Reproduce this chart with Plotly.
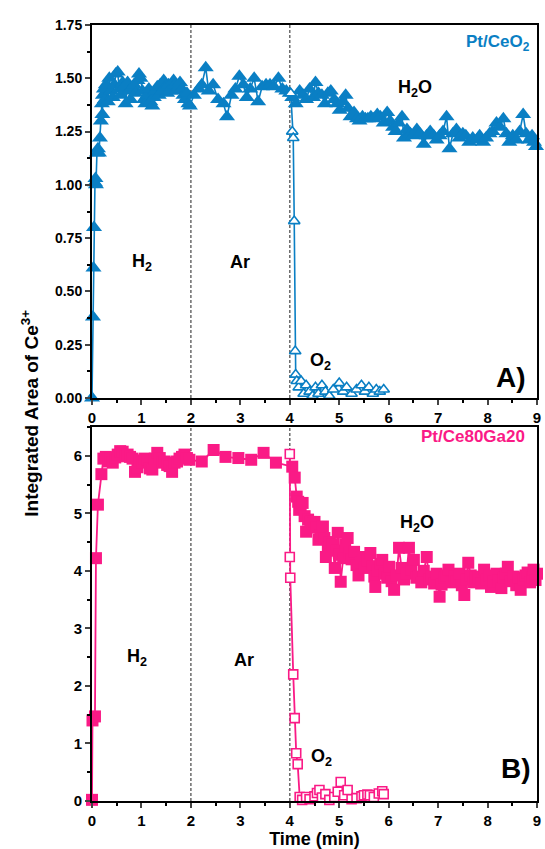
import plotly.graph_objects as go

# ---------------- data ----------------
# Pt/CeO2, H2 -> Ar -> H2O (filled triangles)
ceo2_t = [0.00, 0.02, 0.03, 0.04, 0.06, 0.07, 0.08, 0.10, 0.12, 0.14, 0.16, 0.18, 0.20, 0.21, 0.22, 0.24, 0.26,
          0.28, 0.32, 0.35, 0.38, 0.42, 0.45, 0.48, 0.52, 0.55, 0.58, 0.62, 0.65, 0.68, 0.72, 0.75, 0.78, 0.82,
          0.85, 0.88, 0.92, 0.95, 0.98, 1.02, 1.05, 1.08, 1.12, 1.15, 1.18, 1.22, 1.25, 1.28, 1.32, 1.35, 1.38,
          1.42, 1.45, 1.48, 1.52, 1.55, 1.58, 1.62, 1.65, 1.68, 1.72, 1.75, 1.78, 1.82, 1.85, 1.88, 1.92, 1.95,
          1.98, 2.06, 2.16, 2.22, 2.30, 2.36, 2.45, 2.55, 2.66, 2.73, 2.82, 2.90, 2.98, 3.06, 3.13, 3.20, 3.28,
          3.36, 3.44, 3.52, 3.60, 3.68, 3.77, 3.85, 3.93, 4.00,
          4.05, 4.12, 4.20, 4.27, 4.33, 4.40, 4.47, 4.52, 4.58, 4.65, 4.71, 4.77, 4.83, 4.90, 4.96, 5.01, 5.07,
          5.13, 5.18, 5.23, 5.30, 5.36, 5.41, 5.47, 5.53, 5.58, 5.64, 5.70, 5.77, 5.83, 5.90, 5.97, 6.03, 6.09,
          6.14, 6.20, 6.27, 6.31, 6.37, 6.44, 6.50, 6.57, 6.63, 6.71, 6.77, 6.84, 6.91, 6.97, 7.03, 7.10, 7.17,
          7.23, 7.30, 7.37, 7.43, 7.50, 7.56, 7.63, 7.70, 7.78, 7.84, 7.91, 7.97, 8.04, 8.10, 8.18, 8.25, 8.32,
          8.38, 8.44, 8.51, 8.58, 8.65, 8.72, 8.78, 8.84, 8.90, 8.94, 8.98]
ceo2_v = [0.00, 0.38, 0.61, 0.80, 1.01, 1.03, 1.00, 1.15, 1.17, 1.15, 1.22, 1.30, 1.38, 1.33, 1.42, 1.45, 1.40,
          1.47, 1.39, 1.50, 1.44, 1.41, 1.47, 1.52, 1.53, 1.45, 1.42, 1.48, 1.46, 1.38, 1.48, 1.44, 1.40, 1.46,
          1.47, 1.43, 1.49, 1.52, 1.50, 1.44, 1.40, 1.38, 1.42, 1.45, 1.39, 1.37, 1.41, 1.44, 1.46, 1.42, 1.47,
          1.44, 1.49, 1.46, 1.43, 1.47, 1.44, 1.46, 1.49, 1.47, 1.44, 1.46, 1.48, 1.45, 1.42, 1.40, 1.43, 1.38,
          1.37, 1.42, 1.45, 1.47, 1.55, 1.44, 1.47, 1.40, 1.38, 1.32, 1.42, 1.45, 1.51, 1.47, 1.41, 1.45, 1.50,
          1.39, 1.46, 1.47, 1.47, 1.46, 1.50, 1.45, 1.44, 1.43,
          1.41, 1.38, 1.44, 1.42, 1.40, 1.45, 1.41, 1.48, 1.43, 1.42, 1.38, 1.43, 1.44, 1.40, 1.38, 1.35, 1.39,
          1.42, 1.36, 1.32, 1.34, 1.31, 1.30, 1.32, 1.31, 1.31, 1.32, 1.31, 1.33, 1.32, 1.29, 1.34, 1.30, 1.27,
          1.25, 1.29, 1.32, 1.22, 1.26, 1.24, 1.23, 1.26, 1.24, 1.19, 1.23, 1.25, 1.23, 1.21, 1.23, 1.25, 1.32,
          1.17, 1.24, 1.26, 1.22, 1.24, 1.23, 1.20, 1.22, 1.21, 1.23, 1.20, 1.22, 1.24, 1.25, 1.29, 1.27, 1.31,
          1.24, 1.20, 1.23, 1.21, 1.25, 1.33, 1.24, 1.21, 1.23, 1.20, 1.18]

# Pt/CeO2, O2 step (open triangles)
ceo2_o2_t = [4.02, 4.05, 4.07, 4.09, 4.11, 4.12, 4.14, 4.18, 4.23, 4.28, 4.33, 4.40, 4.46, 4.52, 4.58, 4.65,
             4.72, 4.80, 4.88, 5.00, 5.08, 5.15, 5.25, 5.35, 5.45, 5.52, 5.60, 5.68, 5.75, 5.82, 5.90]
ceo2_o2_v = [1.43, 1.25, 1.22, 0.83, 0.22, 0.11, 0.08, 0.05, 0.08, 0.02, 0.06, 0.03, 0.01, 0.05, 0.02, 0.06,
             0.03, 0.01, 0.04, 0.07, 0.03, 0.05, 0.02, 0.04, 0.06, 0.03, 0.05, 0.02, 0.04, 0.03, 0.04]

# Pt/Ce80Ga20, H2 -> Ar -> H2O (filled squares)
ga_t = [0.00, 0.01, 0.06, 0.08, 0.12, 0.19, 0.23, 0.28, 0.33, 0.38, 0.42, 0.47, 0.52, 0.57, 0.62, 0.67, 0.72,
        0.77, 0.82, 0.87, 0.92, 0.97, 1.02, 1.07, 1.12, 1.17, 1.22, 1.27, 1.32, 1.37, 1.42, 1.47, 1.52, 1.57,
        1.62, 1.67, 1.72, 1.77, 1.82, 1.87, 1.92, 1.97, 2.22, 2.46, 2.70, 2.96, 3.22, 3.47, 3.72,
        4.05, 4.10, 4.14, 4.17, 4.19, 4.22, 4.26, 4.30, 4.33, 4.37, 4.42, 4.47, 4.50, 4.54, 4.58, 4.62, 4.67,
        4.70, 4.73, 4.77, 4.81, 4.86, 4.91, 4.95, 4.97, 5.01, 5.03, 5.08, 5.12, 5.17, 5.21, 5.25, 5.30, 5.35,
        5.39, 5.44, 5.47, 5.52, 5.57, 5.63, 5.67, 5.71, 5.73, 5.78, 5.83, 5.87, 5.92, 5.97, 6.01, 6.06, 6.11,
        6.16, 6.21, 6.26, 6.31, 6.36, 6.41, 6.46, 6.51, 6.56, 6.61, 6.66, 6.71, 6.77, 6.82, 6.87, 6.92, 6.97,
        7.03, 7.07, 7.12, 7.17, 7.21, 7.27, 7.33, 7.38, 7.43, 7.48, 7.53, 7.57, 7.61, 7.66, 7.71, 7.76, 7.81,
        7.87, 7.93, 7.98, 8.03, 8.07, 8.12, 8.18, 8.23, 8.28, 8.33, 8.37, 8.41, 8.47, 8.53, 8.58, 8.63, 8.67,
        8.72, 8.77, 8.81, 8.86, 8.90, 8.93, 8.97, 9.00]
ga_v = [0.02, 1.40, 1.47, 4.22, 5.15, 5.68, 5.95, 5.98, 5.90, 5.95, 5.88, 5.97, 6.02, 6.08, 6.07, 5.99, 6.02,
        5.98, 5.95, 5.72, 5.80, 5.92, 5.88, 5.95, 5.93, 5.78, 5.76, 5.95, 6.05, 5.96, 5.88, 5.90, 5.84, 5.82,
        5.72, 5.88, 5.90, 5.95, 5.98, 6.02, 5.96, 5.93, 5.90, 6.10, 5.98, 5.96, 5.93, 6.05, 5.88,
        5.81, 5.62, 5.29, 5.20, 5.06, 5.11, 5.18, 4.95, 4.68, 4.89, 4.85, 4.82, 4.85, 4.75, 4.54, 4.62, 4.77,
        4.57, 4.24, 4.40, 4.50, 4.45, 4.05, 4.35, 4.66, 4.28, 3.81, 4.22, 4.45, 4.57, 4.31, 4.20, 4.33, 4.10,
        3.92, 4.15, 4.24, 4.05, 4.18, 4.31, 4.08, 3.90, 3.72, 4.00, 4.12, 4.19, 3.95, 3.88, 4.07, 3.82, 3.67,
        3.92, 4.40, 4.05, 3.85, 3.95, 4.40, 4.02, 4.19, 3.88, 3.90, 3.80, 4.00, 4.24, 3.85, 3.90, 3.78, 3.95,
        3.55, 3.76, 3.88, 3.92, 4.02, 3.80, 3.90, 3.82, 3.95, 3.75, 3.58, 3.85, 4.14, 3.92, 3.80, 3.88, 3.90,
        3.78, 4.02, 3.85, 3.92, 3.72, 3.82, 3.95, 3.84, 3.70, 3.88, 3.95, 4.07, 3.82, 3.90, 3.75, 3.88, 3.67,
        3.85, 3.92, 3.97, 3.80, 3.88, 4.02, 3.84, 3.95]

# Pt/Ce80Ga20, O2 step (open squares)
ga_o2_t = [4.00, 4.00, 4.01, 4.07, 4.10, 4.13, 4.16, 4.20, 4.25, 4.33, 4.40, 4.50, 4.55, 4.60, 4.65, 4.72,
           4.80, 4.90, 4.97, 5.03, 5.10, 5.17, 5.25, 5.35, 5.45, 5.50, 5.57, 5.62, 5.70, 5.80, 5.87, 5.90]
ga_o2_v = [6.03, 4.24, 3.88, 2.20, 1.44, 0.83, 0.64, 0.07, 0.02, 0.07, 0.03, 0.08, 0.14, 0.19, 0.06, 0.12,
           0.02, 0.07, 0.16, 0.33, 0.10, 0.19, 0.03, 0.05, 0.08, 0.10, 0.11, 0.10, 0.07, 0.13, 0.17, 0.12]

x_ticks = [0, 1, 2, 3, 4, 5, 6, 7, 8, 9]
top_y_ticks = [0.00, 0.25, 0.50, 0.75, 1.00, 1.25, 1.50, 1.75]
bot_y_ticks = [0, 1, 2, 3, 4, 5, 6]
switch_times = [2, 4]

BLUE = "#0A7FC4"
PINK = "#FA1A86"
FONT = "Liberation Sans"

fig = go.Figure()

fig.add_trace(go.Scatter(x=ceo2_t, y=ceo2_v, mode="lines+markers", cliponaxis=False,
                         line=dict(color=BLUE, width=1.6),
                         marker=dict(symbol="triangle-up", size=14, color=BLUE),
                         xaxis="x", yaxis="y", showlegend=False))
fig.add_trace(go.Scatter(x=ceo2_o2_t, y=ceo2_o2_v, mode="lines+markers", cliponaxis=False,
                         line=dict(color=BLUE, width=1.6),
                         marker=dict(symbol="triangle-up", size=10, color="white",
                                     line=dict(color=BLUE, width=1.6)),
                         xaxis="x", yaxis="y", showlegend=False))
fig.add_trace(go.Scatter(x=ga_t, y=ga_v, mode="lines+markers", cliponaxis=False,
                         line=dict(color=PINK, width=1.8),
                         marker=dict(symbol="square", size=12, color=PINK),
                         xaxis="x2", yaxis="y2", showlegend=False))
fig.add_trace(go.Scatter(x=ga_o2_t, y=ga_o2_v, mode="lines+markers", cliponaxis=False,
                         line=dict(color=PINK, width=1.8),
                         marker=dict(symbol="square", size=9, color="white",
                                     line=dict(color=PINK, width=1.6)),
                         xaxis="x2", yaxis="y2", showlegend=False))

common_x = dict(range=[0, 9], tickvals=x_ticks, ticks="outside", ticklen=5, tickwidth=2,
                minor=dict(ticks="outside", dtick=0.5, ticklen=3, tickwidth=1.5, tickcolor="black"),
                showline=True, linewidth=2, linecolor="black", mirror=True, showgrid=False,
                zeroline=False, tickfont=dict(family=FONT, size=15, color="black", weight="bold"))
common_y = dict(ticks="outside", ticklen=5, tickwidth=2, showline=True, linewidth=2,
                linecolor="black", mirror=True, showgrid=False, zeroline=False)

fig.update_layout(
    width=545, height=849, margin=dict(l=92, r=4, t=25, b=48),
    plot_bgcolor="white", paper_bgcolor="white",
    xaxis=dict(**common_x, domain=[0, 1], anchor="y"),
    yaxis=dict(**common_y, domain=[0.5193, 1], anchor="x", range=[0, 1.75],
               tickvals=top_y_ticks, tickformat=".2f",
               tickfont=dict(family=FONT, size=14, color="black", weight="bold"),
               minor=dict(ticks="outside", dtick=0.125, ticklen=3, tickwidth=1.5, tickcolor="black")),
    xaxis2=dict(**common_x, domain=[0, 1], anchor="y2",
                title=dict(text="Time (min)", standoff=0,
                           font=dict(family=FONT, size=18, color="black", weight="bold"))),
    yaxis2=dict(**common_y, domain=[0, 0.482], anchor="x2", range=[0, 6.5],
                tickvals=bot_y_ticks,
                tickfont=dict(family=FONT, size=15, color="black", weight="bold"),
                minor=dict(ticks="outside", dtick=0.5, ticklen=3, tickwidth=1.5, tickcolor="black")),
)

for xa, ya in (("x", "y"), ("x2", "y2")):
    for t in switch_times:
        fig.add_shape(type="line", xref=xa, yref=f"{ya} domain", x0=t, x1=t, y0=0, y1=1,
                      line=dict(color="#6b6b6b", width=1.5, dash="3px,2px"), layer="below")

def ann(text, x, y, xr, yr, size=18, color="black", xanchor="center"):
    fig.add_annotation(text=text, x=x, y=y, xref=xr, yref=yr, showarrow=False, xanchor=xanchor,
                       yanchor="middle", font=dict(family=FONT, size=size, color=color, weight="bold"))

ann("Pt/CeO<sub>2</sub>", 8.9, 1.665, "x", "y", size=17, color=BLUE, xanchor="right")
ann("H<sub>2</sub>O", 6.53, 1.45, "x", "y")
ann("H<sub>2</sub>", 1.02, 0.635, "x", "y")
ann("Ar", 3.0, 0.64, "x", "y")
ann("O<sub>2</sub>", 4.63, 0.17, "x", "y")
ann("A)", 8.48, 0.095, "x", "y", size=28)

ann("Pt/Ce80Ga20", 8.8, 6.33, "x2", "y2", size=17, color=PINK, xanchor="right")
ann("H<sub>2</sub>O", 6.57, 4.83, "x2", "y2")
ann("H<sub>2</sub>", 0.92, 2.49, "x2", "y2")
ann("Ar", 3.07, 2.45, "x2", "y2")
ann("O<sub>2</sub>", 4.65, 0.75, "x2", "y2")
ann("B)", 8.58, 0.57, "x2", "y2", size=28)

fig.add_annotation(text="Integrated Area of Ce<sup>3+</sup>", x=-0.14, y=0.5, xref="paper", yref="paper",
                   textangle=-90, showarrow=False, xanchor="center", yanchor="middle",
                   font=dict(family=FONT, size=19, color="black", weight="bold"))

fig.write_html("out.html")
